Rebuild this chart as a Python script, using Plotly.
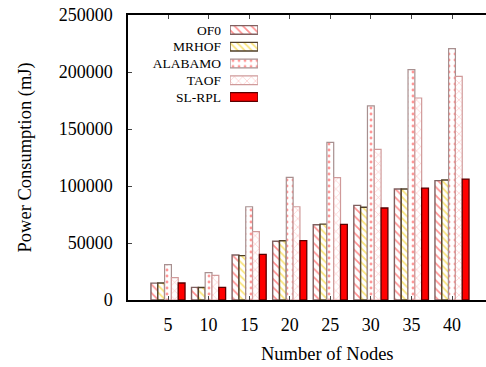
import plotly.graph_objects as go

nodes = [5, 10, 15, 20, 25, 30, 35, 40]
series_names = ["OF0", "MRHOF", "ALABAMO", "TAOF", "SL-RPL"]
of0 = [14800, 11100, 39500, 51500, 66000, 83000, 97400, 104700]
mrhof = [14900, 11000, 38900, 52000, 66600, 81400, 97400, 105300]
alabamo = [31000, 24000, 81800, 107600, 138300, 170200, 202000, 220500]
taof = [19600, 21600, 59900, 81800, 107300, 132200, 177200, 196200]
slrpl = [14900, 11100, 40000, 52000, 66400, 80700, 98200, 106100]
y_ticks = [0, 50000, 100000, 150000, 200000, 250000]
legend_key = [1]

values = [of0, mrhof, alabamo, taof, slrpl]
styles = [
    dict(color="white", line=dict(color="#806060", width=1.4),
         pattern=dict(shape="\\", fgcolor="#ff2020", bgcolor="white", size=6, solidity=0.28)),
    dict(color="white", line=dict(color="#504028", width=1.4),
         pattern=dict(shape="\\", fgcolor="#f5cc00", bgcolor="white", size=5, solidity=0.35)),
    dict(color="white", line=dict(color="#a89090", width=1.2),
         pattern=dict(shape=".", fgcolor="#ff3030", bgcolor="white", size=6, solidity=0.18)),
    dict(color="white", line=dict(color="#d09a9a", width=1.2),
         pattern=dict(shape="x", fgcolor="#ff8a8a", bgcolor="white", size=6, solidity=0.2)),
    dict(color="#ff0000", line=dict(color="#5a0000", width=1.3)),
]

fig = go.Figure()
for name, vals, st in zip(series_names, values, styles):
    fig.add_trace(go.Bar(x=nodes, y=vals, name=name, marker=st, showlegend=False,
                         xaxis="x", yaxis="y"))

# legend keys drawn on a small overlay axis, labels as category tick labels
for name, st in zip(series_names, styles):
    fig.add_trace(go.Bar(x=legend_key, y=[name], orientation="h", marker=st, name=name,
                         showlegend=False, xaxis="x2", yaxis="y2", offsetgroup="leg",
                         width=0.52, hoverinfo="skip"))

font_family = "Liberation Serif"
fig.update_layout(
    width=486, height=367,
    margin=dict(l=128, r=0, t=15, b=67, autoexpand=False),
    paper_bgcolor="white", plot_bgcolor="white",
    barmode="group", bargap=0.16, bargroupgap=0,
    font=dict(family=font_family, size=18, color="black"),
    xaxis=dict(range=[0.07, 44.19], tickvals=nodes, ticks="inside", ticklen=4,
               showline=True, linecolor="black", linewidth=1.5, mirror="ticks",
               showgrid=False, zeroline=False, tickfont=dict(size=18), ticklabelstandoff=8,
               automargin=False),
    yaxis=dict(range=[0, 250000], tickvals=y_ticks, tickformat="d", ticks="inside", ticklen=4,
               showline=True, linecolor="black", linewidth=1.5, mirror=False,
               showgrid=False, zeroline=False, tickfont=dict(size=18), ticklabelstandoff=10,
               automargin=False),
    xaxis2=dict(domain=[0.285, 0.363], range=[0, 1], visible=False, anchor="y2"),
    yaxis2=dict(domain=[0.683, 0.977], anchor="x2", type="category",
                categoryorder="array", categoryarray=series_names, autorange="reversed",
                showline=False, showgrid=False, zeroline=False, ticks="",
                tickfont=dict(size=13.5), ticklabelstandoff=8, automargin=False),
    annotations=[
        dict(text="Number of Nodes", xref="paper", yref="paper",
             x=0.556, y=-0.19, xanchor="center", yanchor="middle",
             showarrow=False, font=dict(size=18.5)),
        dict(text="Power Consumption (mJ)", xref="paper", yref="paper",
             x=-0.285, y=0.5, xanchor="center", yanchor="middle", textangle=-90,
             showarrow=False, font=dict(size=18.5)),
    ],
)

fig.write_html("out.html", config={"displayModeBar": False},
               post_script="document.body.style.margin='0';")
